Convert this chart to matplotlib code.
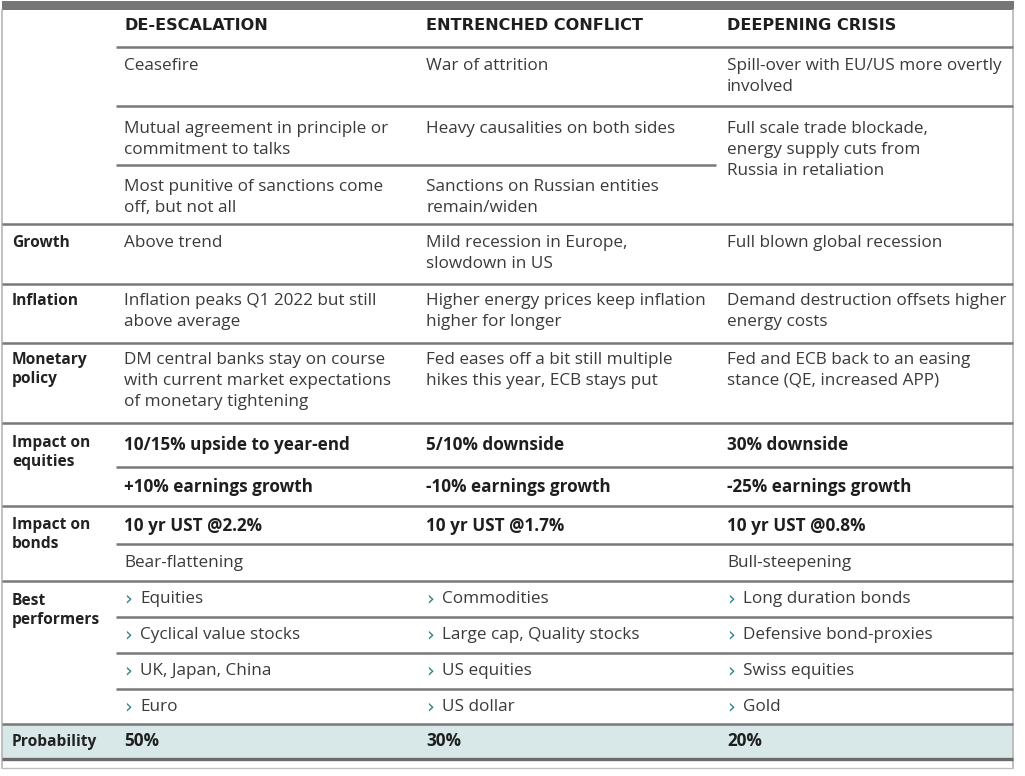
import matplotlib
matplotlib.use("Agg")
import matplotlib.pyplot as plt
from matplotlib.patches import Rectangle

# table content
headers = ["DE-ESCALATION", "ENTRENCHED CONFLICT", "DEEPENING CRISIS"]
scenario_a = ["Ceasefire", "War of attrition", "Spill-over with EU/US more overtly\ninvolved"]
scenario_b = ["Mutual agreement in principle or\ncommitment to talks", "Heavy causalities on both sides",
              "Full scale trade blockade,\nenergy supply cuts from\nRussia in retaliation"]
scenario_c = ["Most punitive of sanctions come\noff, but not all", "Sanctions on Russian entities\nremain/widen"]
row_labels = ["Growth", "Inflation", "Monetary\npolicy", "Impact on\nequities", "Impact on\nbonds",
              "Best\nperformers", "Probability"]
growth = ["Above trend", "Mild recession in Europe,\nslowdown in US", "Full blown global recession"]
inflation = ["Inflation peaks Q1 2022 but still\nabove average", "Higher energy prices keep inflation\nhigher for longer",
             "Demand destruction offsets higher\nenergy costs"]
monetary = ["DM central banks stay on course\nwith current market expectations\nof monetary tightening",
            "Fed eases off a bit still multiple\nhikes this year, ECB stays put",
            "Fed and ECB back to an easing\nstance (QE, increased APP)"]
equities_target = ["10/15% upside to year-end", "5/10% downside", "30% downside"]
equities_eps = ["+10% earnings growth", "-10% earnings growth", "-25% earnings growth"]
bonds_yield = ["10 yr UST @2.2%", "10 yr UST @1.7%", "10 yr UST @0.8%"]
bonds_curve = ["Bear-flattening", "", "Bull-steepening"]
best = [["Equities", "Cyclical value stocks", "UK, Japan, China", "Euro"],
        ["Commodities", "Large cap, Quality stocks", "US equities", "US dollar"],
        ["Long duration bonds", "Defensive bond-proxies", "Swiss equities", "Gold"]]
probability = ["50%", "30%", "20%"]

# layout (pixels)
W, H = 1025, 776
col_x = [124, 426, 727]
lab_x = 12
sub_x0, right_x, left_x = 116, 1013, 2
body_font = "Open Sans"
body_size = 12.3
body_col = "#3a3a3a"
line_col = "#787878"
teal = "#2b8585"

fig = plt.figure(figsize=(W / 100, H / 100), dpi=100)
ax = fig.add_axes([0, 0, 1, 1])
ax.set_xlim(0, W)
ax.set_ylim(H, 0)
ax.axis("off")


def hline(y, x0=left_x, x1=right_x, lw=1.8, c=line_col):
    ax.plot([x0, x1], [y, y], color=c, lw=lw, solid_capstyle="butt")


def body(x, y, s, bold=False, va="top"):
    ax.text(x, y, s, fontsize=body_size, family=body_font, color=body_col if not bold else "#1e1e1e",
            fontweight="bold" if bold else "normal", va=va, ha="left", linespacing=1.4)


def label(y, s, va="top"):
    ax.text(lab_x, y, s, fontsize=11.2, family=body_font, fontweight="bold", color="#222222",
            va=va, ha="left", linespacing=1.22)


# frame and top bar
ax.add_patch(Rectangle((left_x, 1), right_x - left_x + 1, 9, color="#767676", lw=0))
ax.plot([left_x, left_x], [10, 768], color="#b5b5b5", lw=1.2)
ax.plot([right_x, right_x], [10, 768], color="#b5b5b5", lw=1.2)

# probability shading
ax.add_patch(Rectangle((left_x, 724), right_x - left_x, 35, color="#d8e8e8", lw=0))

# headers
for x, h in zip(col_x, headers):
    ax.text(x, 26, h, fontsize=11.6, family="DejaVu Sans", fontweight="bold", color="#1e1e1e",
            va="center", ha="left")

# scenario sub rows
hline(47, sub_x0)
hline(106, sub_x0)
hline(165, sub_x0, 716)
for x, s in zip(col_x, scenario_a):
    body(x, 58, s)
for x, s in zip(col_x, scenario_b):
    body(x, 121, s)
for x, s in zip(col_x, scenario_c):
    body(x, 179, s)

# main rows
for y in [224, 284, 343, 423, 506, 581, 724]:
    hline(y)
for y in [467, 544, 617, 653, 689]:
    hline(y, sub_x0)
hline(759, lw=2.4, c="#6a6a6a")
hline(768, lw=1.0, c="#c0c0c0")

label(235, row_labels[0])
label(293, row_labels[1])
label(352, row_labels[2])
label(435, row_labels[3])
label(517, row_labels[4])
label(593, row_labels[5])
label(741.5, row_labels[6], va="center")

for x, s in zip(col_x, growth):
    body(x, 235, s)
for x, s in zip(col_x, inflation):
    body(x, 293, s)
for x, s in zip(col_x, monetary):
    body(x, 352, s)
for x, s in zip(col_x, equities_target):
    body(x, 445, s, bold=True, va="center")
for x, s in zip(col_x, equities_eps):
    body(x, 487, s, bold=True, va="center")
for x, s in zip(col_x, bonds_yield):
    body(x, 526, s, bold=True, va="center")
for x, s in zip(col_x, bonds_curve):
    body(x, 563, s, va="center")

sub_mid = [599, 635, 671, 707]
for x, items in zip(col_x, best):
    for y, s in zip(sub_mid, items):
        ax.text(x, y, "\u203a", fontsize=14, family="DejaVu Sans", color=teal,
                va="center", ha="left")
        body(x + 16, y, s, va="center")

for x, s in zip(col_x, probability):
    body(x, 741.5, s, bold=True, va="center")

fig.savefig("out.png", dpi=100)
